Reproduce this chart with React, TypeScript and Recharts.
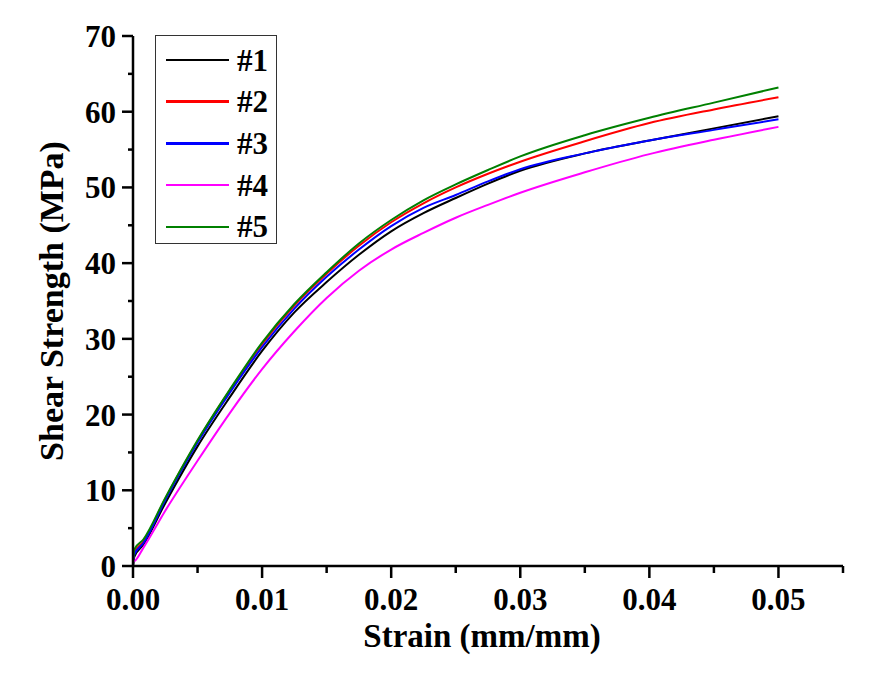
import { LineChart, Line, XAxis, YAxis, Legend } from 'recharts'

// strain (mm/mm) sample positions shared by all five specimens
const strain = [0, 0.0001, 0.0008, 0.0025, 0.005, 0.0075, 0.01, 0.0125, 0.015, 0.0175, 0.02, 0.0225, 0.025, 0.0275, 0.03, 0.035, 0.04, 0.045, 0.05]

// shear strength (MPa) per specimen
const spec1 = [0, 1.2, 2.8, 8.3, 15.8, 22.3, 28.4, 33.5, 37.5, 41.1, 44.2, 46.6, 48.6, 50.5, 52.2, 54.5, 56.2, 57.8, 59.4]
const spec2 = [0, 1.8, 3.2, 8.9, 16.5, 23.2, 29.3, 34.4, 38.6, 42.3, 45.4, 47.9, 50.0, 51.8, 53.4, 56.1, 58.5, 60.3, 61.9]
const spec3 = [0, 1.5, 3.0, 8.7, 16.3, 22.9, 28.9, 34.0, 38.2, 41.8, 44.9, 47.3, 49.0, 50.8, 52.4, 54.5, 56.2, 57.6, 59.0]
const spec4 = [0.6, 0.65, 2.4, 7.3, 13.9, 20.2, 26.0, 31.0, 35.4, 39.0, 41.8, 44.0, 46.0, 47.7, 49.3, 52.0, 54.4, 56.3, 58.0]
const spec5 = [0, 2.2, 3.5, 9.0, 16.6, 23.3, 29.5, 34.6, 38.8, 42.6, 45.7, 48.3, 50.4, 52.3, 54.1, 56.9, 59.2, 61.2, 63.2]

const seriesNames = ['#1', '#2', '#3', '#4', '#5']
const seriesColors = ['#000000', '#ff0000', '#0000ff', '#ff00ff', '#008000']

const xTicks = [0, 0.005, 0.01, 0.015, 0.02, 0.025, 0.03, 0.035, 0.04, 0.045, 0.05, 0.055]
const yTicks = [0, 5, 10, 15, 20, 25, 30, 35, 40, 45, 50, 55, 60, 65, 70]

const data = strain.map((s, i) => ({
  strain: s,
  s1: spec1[i],
  s2: spec2[i],
  s3: spec3[i],
  s4: spec4[i],
  s5: spec5[i],
}))

const FONT = '"Liberation Serif", "Times New Roman", serif'

const XTick = (props: any) => {
  const { x, y, payload } = props
  const v = payload.value
  const major = Math.round(v * 1000) % 10 === 0
  return (
    <g>
      <line x1={x} y1={y} x2={x} y2={y + (major ? 12 : 7)} stroke="#000" strokeWidth={2.5} />
      {major && (
        <text x={x} y={y + 44} textAnchor="middle" fontFamily={FONT} fontWeight="bold" fontSize={31} fill="#000">
          {v.toFixed(2)}
        </text>
      )}
    </g>
  )
}

const YTick = (props: any) => {
  const { x, y, payload } = props
  const v = payload.value
  const major = v % 10 === 0
  return (
    <g>
      <line x1={x} y1={y} x2={x - (major ? 11 : 5)} y2={y} stroke="#000" strokeWidth={2.5} />
      {major && (
        <text x={x - 17} y={y + 11} textAnchor="end" fontFamily={FONT} fontWeight="bold" fontSize={31} fill="#000">
          {v}
        </text>
      )}
    </g>
  )
}

const LegendBox = (props: any) => {
  const { payload = [] } = props
  return (
    <div
      style={{
        position: 'relative',
        width: 122,
        height: 209,
        boxSizing: 'border-box',
        border: '1.5px solid #333',
        background: '#fff',
      }}
    >
      {payload.map((entry: any, i: number) => (
        <div
          key={entry.value}
          style={{
            position: 'absolute',
            left: 0,
            top: 24 + i * 41.7 - 20,
            height: 40,
            display: 'flex',
            alignItems: 'center',
          }}
        >
          <div style={{ marginLeft: 10, width: 63, height: 2.5, background: entry.color }} />
          <span
            style={{
              marginLeft: 8,
              fontFamily: FONT,
              fontWeight: 'bold',
              fontSize: 31,
              lineHeight: 1,
              color: '#000',
            }}
          >
            {entry.value}
          </span>
        </div>
      ))}
    </div>
  )
}

export default function App() {
  return (
    <div style={{ position: 'absolute', left: 0, top: 0, width: 878, height: 673, background: '#fff' }}>
      <LineChart width={878} height={673} data={data} margin={{ top: 36, right: 35, bottom: 0, left: 0 }}>
        <XAxis
          dataKey="strain"
          type="number"
          domain={[0, 0.055]}
          ticks={xTicks}
          interval={0}
          height={107}
          tickSize={0}
          tickMargin={0}
          tickLine={false}
          tick={<XTick />}
          axisLine={{ stroke: '#000', strokeWidth: 2.5 }}
          label={{
            content: (p: any) => {
              const vb = p.viewBox
              return (
                <text
                  x={vb.x + vb.width / 2 - 6}
                  y={vb.y + 81}
                  textAnchor="middle"
                  fontFamily={FONT}
                  fontWeight="bold"
                  fontSize={33}
                  fill="#000"
                >
                  Strain (mm/mm)
                </text>
              )
            },
          }}
        />
        <YAxis
          type="number"
          domain={[0, 70]}
          ticks={yTicks}
          interval={0}
          width={133}
          tickSize={0}
          tickMargin={0}
          tickLine={false}
          tick={<YTick />}
          axisLine={{ stroke: '#000', strokeWidth: 2.5 }}
          label={{
            content: (p: any) => {
              const vb = p.viewBox
              const cy = vb.y + vb.height / 2
              return (
                <text
                  x={62.5}
                  y={cy}
                  textAnchor="middle"
                  transform={`rotate(-90, 62.5, ${cy})`}
                  fontFamily={FONT}
                  fontWeight="bold"
                  fontSize={34}
                  fill="#000"
                >
                  Shear Strength (MPa)
                </text>
              )
            },
          }}
        />
        {['s1', 's2', 's3', 's4', 's5'].map((key, i) => (
          <Line
            key={key}
            dataKey={key}
            name={seriesNames[i]}
            stroke={seriesColors[i]}
            strokeWidth={2}
            dot={false}
            type="monotone"
            isAnimationActive={false}
          />
        ))}
        <Legend
          layout="vertical"
          align="center"
          verticalAlign="middle"
          content={<LegendBox />}
          wrapperStyle={{ position: 'absolute', left: 155, top: 35, width: 122, height: 209, margin: 0 }}
        />
      </LineChart>
    </div>
  )
}
